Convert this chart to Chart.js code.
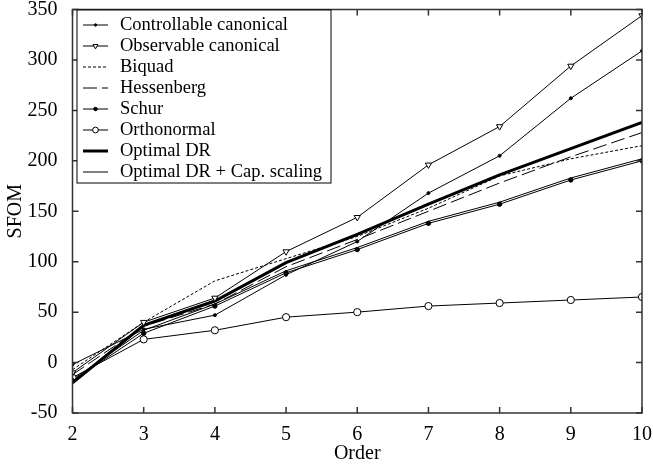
<!DOCTYPE html>
<html>
<head>
<meta charset="utf-8">
<script src="https://cdn.jsdelivr.net/npm/chart.js@4.4.0/dist/chart.umd.min.js"></script>
<style>
  html, body { margin: 0; padding: 0; background: #fff; }
  #wrap { width: 653px; height: 467px; }
</style>
</head>
<body>
<div id="wrap"><canvas id="chart" width="653" height="467"></canvas></div>
<script>
// data
const orders = [2, 3, 4, 5, 6, 7, 8, 9, 10];
const controllable = [-2, 33, 47, 87, 120, 168, 205, 262, 309];
const observable = [-10, 40, 64, 110, 144, 196, 234, 294, 344];
const biquad = [-7, 40, 81, 103, 125, 153, 185, 202, 215];
const hessenberg = [-12, 36, 58, 95, 122, 150, 178, 204, 228];
const schur = [-18, 29, 56, 89, 112, 138, 157, 181, 200];
const orthonormal = [-15, 23, 32, 45, 50, 56, 59, 62, 65];
const optimalDR = [-20, 37, 61, 99, 127, 157, 186, 212, 238];
const capScaling = [-17, 32, 58, 91, 114, 140, 159, 183, 202];

const yTicks = [-50, 0, 50, 100, 150, 200, 250, 300, 350];

const FONT = '"Liberation Serif", "Times New Roman", serif';

function pts(values) {
  return orders.map((o, i) => ({ x: o, y: values[i] }));
}

function series(label, values, opts) {
  return Object.assign({
    label: label,
    data: pts(values),
    borderColor: '#000',
    backgroundColor: '#000',
    borderWidth: 1,
    pointRadius: 0,
    pointBorderColor: '#000',
    pointBorderWidth: 1,
    tension: 0,
    fill: false
  }, opts);
}

const datasets = [
  series('Controllable canonical', controllable, { pointRadius: 1.5, pointBackgroundColor: '#000' }),
  series('Observable canonical', observable, { pointStyle: 'triangle', rotation: 180, pointRadius: 3.6, pointBackgroundColor: '#fff' }),
  series('Biquad', biquad, { borderDash: [3, 2] }),
  series('Hessenberg', hessenberg, { borderDash: [14, 5] }),
  series('Schur', schur, { pointRadius: 2.2, pointBackgroundColor: '#000' }),
  series('Orthonormal', orthonormal, { pointRadius: 3.6, pointBackgroundColor: '#fff' }),
  series('Optimal DR', optimalDR, { borderWidth: 3 }),
  series('Optimal DR + Cap. scaling', capScaling, {})
];

// frame with inward ticks + boxed legend inside the plot
const framePlugin = {
  id: 'frame',
  afterDraw(chart) {
    const ctx = chart.ctx;
    const a = chart.chartArea;
    const xs = chart.scales.x, ys = chart.scales.y;
    ctx.save();
    ctx.strokeStyle = '#333';
    ctx.lineWidth = 1.5;
    ctx.strokeRect(a.left, a.top, a.right - a.left, a.bottom - a.top);
    ctx.beginPath();
    xs.ticks.forEach(t => {
      const px = xs.getPixelForValue(t.value);
      ctx.moveTo(px, a.bottom); ctx.lineTo(px, a.bottom - 6);
      ctx.moveTo(px, a.top); ctx.lineTo(px, a.top + 6);
    });
    ys.ticks.forEach(t => {
      const py = ys.getPixelForValue(t.value);
      ctx.moveTo(a.left, py); ctx.lineTo(a.left + 6, py);
      ctx.moveTo(a.right, py); ctx.lineTo(a.right - 6, py);
    });
    ctx.stroke();

    // legend
    const bx = a.left + 4.5, by = a.top + 0.5, bw = 254, bh = 173;
    ctx.fillStyle = '#fff';
    ctx.fillRect(bx, by, bw, bh);
    ctx.strokeStyle = '#000';
    ctx.lineWidth = 1;
    ctx.strokeRect(bx, by, bw, bh);
    ctx.font = '18.5px ' + FONT;
    ctx.textBaseline = 'middle';
    ctx.textAlign = 'left';
    chart.data.datasets.forEach((ds, i) => {
      const y = by + 15 + i * 21;
      const x0 = bx + 6, x1 = bx + 31;
      ctx.strokeStyle = '#000';
      ctx.lineWidth = ds.borderWidth;
      ctx.setLineDash(ds.borderDash || []);
      ctx.beginPath();
      ctx.moveTo(x0, y); ctx.lineTo(x1, y);
      ctx.stroke();
      ctx.setLineDash([]);
      if (ds.pointRadius > 0) {
        ctx.fillStyle = ds.pointBackgroundColor;
        ctx.lineWidth = 1;
        Chart.helpers.drawPoint(ctx, {
          pointStyle: ds.pointStyle || 'circle',
          radius: ds.pointRadius * 0.8,
          rotation: ds.rotation || 0,
          borderWidth: 1
        }, (x0 + x1) / 2, y);
      }
      ctx.fillStyle = '#000';
      ctx.fillText(ds.label, bx + 43, y);
    });
    ctx.restore();
  }
};

new Chart(document.getElementById('chart'), {
  type: 'line',
  data: { datasets: datasets },
  options: {
    responsive: false,
    animation: false,
    layout: { padding: { top: 9.5, right: 11, left: 0, bottom: 0 } },
    plugins: { legend: { display: false }, tooltip: { enabled: false } },
    scales: {
      x: {
        type: 'linear',
        min: 2, max: 10,
        afterFit: s => { s.height = 54; s.paddingLeft = 0; s.paddingRight = 0; },
        afterBuildTicks: s => { s.ticks = orders.map(v => ({ value: v })); },
        grid: { display: false },
        border: { display: false },
        ticks: { color: '#000', font: { family: FONT, size: 20 }, padding: 2, maxRotation: 0 },
        title: { display: true, text: 'Order', color: '#000', font: { family: FONT, size: 20 }, padding: { top: 0, bottom: 1 } }
      },
      y: {
        min: -50, max: 350,
        afterFit: s => { s.width = 72.5; s.paddingTop = 0; s.paddingBottom = 0; },
        afterBuildTicks: s => { s.ticks = yTicks.map(v => ({ value: v })); },
        grid: { display: false },
        border: { display: false },
        ticks: { color: '#000', font: { family: FONT, size: 20 }, padding: 7 },
        title: { display: true, text: 'SFOM', color: '#000', font: { family: FONT, size: 20 }, padding: { top: 4, bottom: 0 } }
      }
    }
  },
  plugins: [framePlugin]
});
</script>
</body>
</html>
